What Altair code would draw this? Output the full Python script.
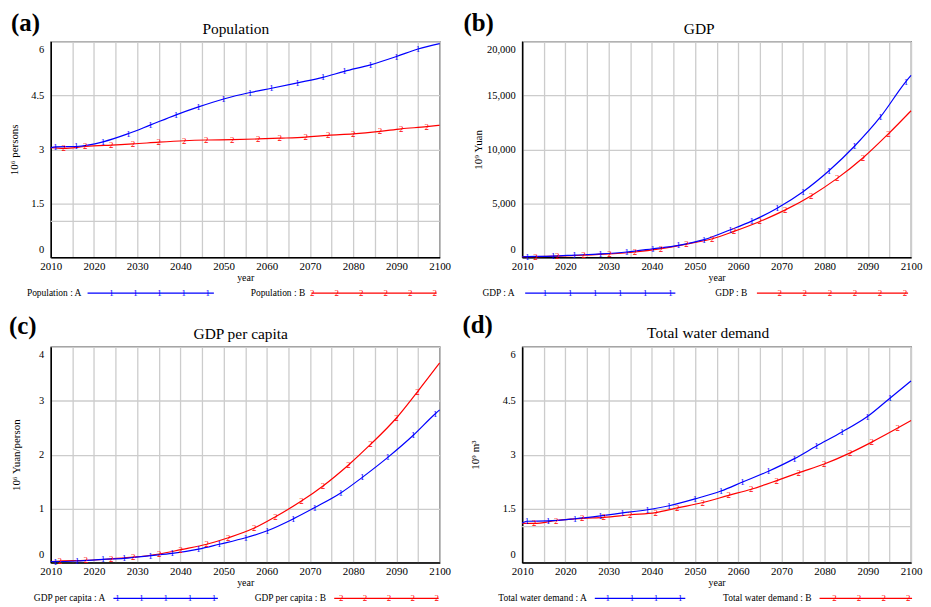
import altair as alt
import pandas as pd

FONT = "Liberation Serif"
BLUE = "#0000ff"
RED = "#ff0000"
GRID = "#cccccc"

# ---------------- data ----------------
pop_a_years = [2010, 2011.1, 2015.9, 2022.1, 2028, 2033.1, 2039, 2044.2, 2050, 2056.1, 2061.1, 2067.1, 2073, 2078, 2084, 2090, 2095, 2100]
pop_a = [3.05, 3.07, 3.08, 3.21, 3.44, 3.68, 3.96, 4.18, 4.40, 4.58, 4.70, 4.85, 5.00, 5.17, 5.35, 5.58, 5.79, 5.94]
pop_b_years = [2010, 2013, 2018, 2024, 2029, 2035, 2040.9, 2046, 2052, 2058, 2063, 2069, 2074.2, 2080, 2086.2, 2091.1, 2097, 2100]
pop_b = [3.05, 3.03, 3.08, 3.12, 3.15, 3.20, 3.24, 3.26, 3.27, 3.29, 3.31, 3.34, 3.39, 3.43, 3.50, 3.57, 3.63, 3.67]

gdp_a_years = [2010, 2011.2, 2017.2, 2022.1, 2028.1, 2034.2, 2040.2, 2046.2, 2052.1, 2058.2, 2063.1, 2069, 2075, 2081, 2086.9, 2092.9, 2098.8, 2100]
gdp_a = [50, 60, 110, 200, 310, 490, 790, 1110, 1630, 2550, 3350, 4550, 6080, 8020, 10290, 13000, 16280, 16850]
gdp_b_years = [2010, 2013.1, 2018.1, 2024.2, 2030.2, 2036.1, 2042.1, 2048, 2054, 2059, 2065, 2070.9, 2076.9, 2082.9, 2088.9, 2094.8, 2100]
gdp_b = [50, 60, 100, 190, 310, 490, 800, 1220, 1720, 2400, 3320, 4390, 5710, 7310, 9220, 11460, 13580]

gdpc_a_years = [2010, 2011.1, 2016.1, 2022.1, 2027, 2033.1, 2038.1, 2044.2, 2049, 2055.1, 2060.1, 2066.1, 2071.1, 2077.1, 2082.1, 2088, 2093.9, 2099, 2100]
gdpc_a = [0.02, 0.02, 0.03, 0.06, 0.08, 0.13, 0.17, 0.25, 0.34, 0.46, 0.59, 0.81, 1.02, 1.29, 1.58, 1.95, 2.36, 2.76, 2.83]
gdpc_b_years = [2010, 2012.1, 2018.1, 2024, 2029.1, 2035.1, 2040.1, 2046.1, 2051.1, 2057.1, 2062, 2068, 2073, 2078.9, 2084, 2090, 2094.9, 2100]
gdpc_b = [0.02, 0.03, 0.04, 0.07, 0.10, 0.16, 0.24, 0.34, 0.46, 0.64, 0.85, 1.14, 1.42, 1.81, 2.19, 2.68, 3.17, 3.70]

wd_a_years = [2010, 2011.1, 2016, 2022.2, 2028.1, 2033.2, 2039, 2044, 2050, 2056, 2061, 2067, 2073, 2078.1, 2084, 2089.9, 2095.1, 2100]
wd_a = [1.10, 1.15, 1.16, 1.22, 1.30, 1.38, 1.47, 1.58, 1.77, 1.99, 2.24, 2.54, 2.89, 3.24, 3.63, 4.06, 4.57, 5.05]
wd_b_years = [2010, 2012.8, 2017.9, 2023.9, 2028.9, 2035, 2040.9, 2045.9, 2051.8, 2057.8, 2063, 2068.9, 2074, 2079.9, 2085.9, 2090.9, 2096.9, 2100]
wd_b = [1.10, 1.09, 1.17, 1.23, 1.26, 1.33, 1.39, 1.52, 1.67, 1.87, 2.04, 2.28, 2.50, 2.74, 3.05, 3.35, 3.74, 3.95]

x_grid_years = list(range(2010, 2101, 5))

W, H = 391, 217


def series_df(years, vals):
    df = pd.DataFrame({"year": years, "v": vals})
    df["m"] = [0] + [1] * (len(years) - 2) + [0]
    return df


def panel(tag, title, ytitle, ymax, yticks, yfmt, ay, av, by, bv, lab_a, lab_b,
          extra_grid, lay):
    xs = alt.Scale(domain=[2010, 2100], nice=False, zero=False)
    ys = alt.Scale(domain=[0, ymax], nice=False, zero=True)
    xaxis = alt.Axis(values=x_grid_years, format="d",
                     labelExpr="datum.value % 10 == 0 ? datum.label : ''",
                     grid=True, gridColor=GRID, gridWidth=1.3, ticks=False,
                     domainColor="black", domainWidth=1.5, labelFlush=False,
                     labelFont=FONT, labelFontSize=11, labelColor="black", labelPadding=3,
                     title="year", titleFont=FONT, titleFontSize=10, titleFontWeight="normal",
                     titleColor="black", titlePadding=1)
    yaxis = alt.Axis(values=yticks, format=yfmt, grid=True, gridColor=GRID, gridWidth=1.3,
                     ticks=False, domainColor="black", domainWidth=1.5,
                     labelFlush=True, labelFlushOffset=-3,
                     labelFont=FONT, labelFontSize=10.5, labelColor="black", labelPadding=7,
                     title=ytitle, titleFont=FONT, titleFontSize=11, titleFontWeight="normal",
                     titleColor="black", titleAngle=270, titleAlign="center",
                     titleBaseline="middle", titleX=lay["ytx"], titleY=H / 2)

    def X():
        return alt.X("year:Q", scale=xs, axis=xaxis)

    def Y():
        return alt.Y("v:Q", scale=ys, axis=yaxis)

    dfa = series_df(ay, av)
    dfb = series_df(by, bv)
    layers = []
    if extra_grid is not None:
        layers.append(alt.Chart(pd.DataFrame({"v": [extra_grid]}))
                      .mark_rule(color=GRID, strokeWidth=1.3).encode(y=Y()))
    layers += [
        alt.Chart(dfb).mark_line(color=RED, strokeWidth=1.2, interpolate="monotone").encode(x=X(), y=Y()),
        alt.Chart(dfa).mark_line(color=BLUE, strokeWidth=1.2, interpolate="monotone").encode(x=X(), y=Y()),
        alt.Chart(dfb).transform_filter("datum.m == 1").mark_text(
            text="2", color=RED, font=FONT, fontSize=9, baseline="middle").encode(x=X(), y=Y()),
        alt.Chart(dfa).transform_filter("datum.m == 1").mark_text(
            text="1", color=BLUE, font=FONT, fontSize=9, baseline="middle").encode(x=X(), y=Y()),
    ]
    one = pd.DataFrame({"k": [0]})
    ly = H + 36
    # title and panel tag
    layers.append(alt.Chart(one).mark_text(text=title, font=FONT, fontSize=15.5, color="black",
                                           baseline="middle").encode(
        x=alt.value(lay["tx"]), y=alt.value(lay["ty"])))
    layers.append(alt.Chart(one).mark_text(text=tag, font=FONT, fontSize=25, fontWeight="bold",
                                           color="black", align="left", baseline="top").encode(
        x=alt.value(lay["px"]), y=alt.value(lay["py"])))
    # legend
    for lab, txt_x, (l0, l1), (m0, step, n), col, ch in (
            (lab_a, lay["la_t"], lay["la_l"], lay["la_m"], BLUE, "1"),
            (lab_b, lay["lb_t"], lay["lb_l"], lay["lb_m"], RED, "2")):
        layers.append(alt.Chart(one).mark_text(text=lab, font=FONT, fontSize=9.5, color="black",
                                               align="left", baseline="middle").encode(
            x=alt.value(txt_x), y=alt.value(ly)))
        layers.append(alt.Chart(one).mark_rule(color=col, strokeWidth=1.2).encode(
            x=alt.value(l0), x2=alt.value(l1), y=alt.value(ly)))
        layers.append(alt.Chart(pd.DataFrame({"px": [m0 + i * step for i in range(n)]}))
                      .mark_text(text=ch, color=col, font=FONT, fontSize=9, baseline="middle")
                      .encode(x=alt.X("px:Q", scale=None, axis=None), y=alt.value(ly)))
    return alt.layer(*layers).properties(width=W, height=H)


pa = panel("(a)", "Population", "10⁶ persons", 6, [0, 1.5, 3, 4.5, 6], ".2~g",
           pop_a_years, pop_a, pop_b_years, pop_b, "Population : A", "Population : B", 1.0,
           dict(ytx=-36, tx=186, ty=-12, px=-40, py=-31,
                la_t=-24, la_l=(37, 164), la_m=(61, 24.2, 5),
                lb_t=201, lb_l=(262, 388), lb_m=(263, 24.6, 6)))
pb = panel("(b)", "GDP", "10⁹ Yuan", 20000, [0, 5000, 10000, 15000, 20000], ",.0f",
           gdp_a_years, gdp_a, gdp_b_years, gdp_b, "GDP : A", "GDP : B", None,
           dict(ytx=-44, tx=178, ty=-12, px=-59, py=-31,
                la_t=-40, la_l=(3, 154), la_m=(23, 25.2, 6),
                lb_t=194, lb_l=(236, 388), lb_m=(259, 25.2, 6)))
pc = panel("(c)", "GDP per capita", "10⁶ Yuan/person", 4, [0, 1, 2, 3, 4], ".0f",
           gdpc_a_years, gdpc_a, gdpc_b_years, gdpc_b, "GDP per capita : A", "GDP per capita : B", None,
           dict(ytx=-34, tx=191, ty=-13, px=-42, py=-33,
                la_t=-17, la_l=(63, 168), la_m=(67, 24.3, 5),
                lb_t=205, lb_l=(285, 390), lb_m=(292, 24, 5)))
pd_ = panel("(d)", "Total water demand", "10⁹ m³", 6, [0, 1.5, 3, 4.5, 6], ".2~g",
            wd_a_years, wd_a, wd_b_years, wd_b, "Total water demand : A", "Total water demand : B", 1.0,
            dict(ytx=-47, tx=187, ty=-14, px=-60, py=-34,
                 la_t=-24, la_l=(73, 164), la_m=(86, 24.3, 4),
                 lb_t=202, lb_l=(299, 392), lb_m=(314, 24.7, 4)))

chart = alt.concat(pa, pb, pc, pd_, columns=2, spacing={"row": 90, "column": 83},
                   bounds="flush").properties(padding=0)
chart = chart.configure(font=FONT).configure_view(stroke="#333333", strokeWidth=1.2)

chart.save("out.html", embed_options={"renderer": "svg", "actions": False})
